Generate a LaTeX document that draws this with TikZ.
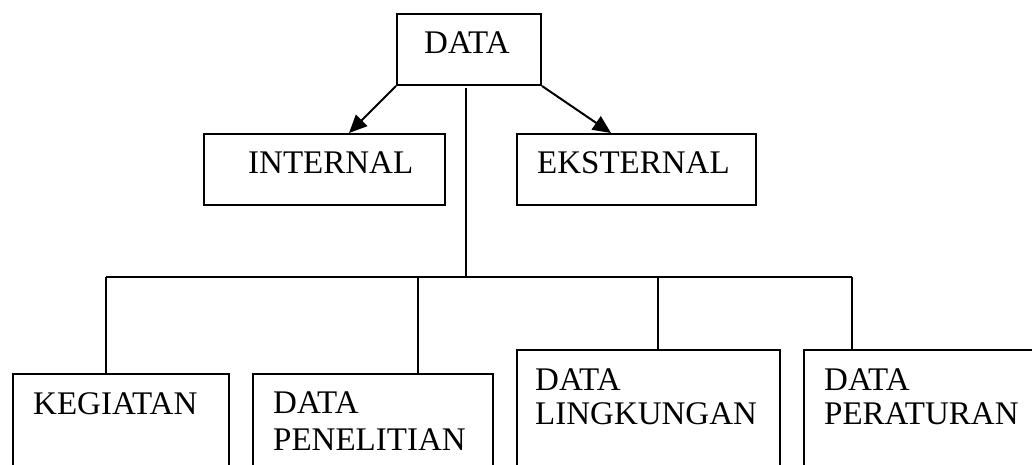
\documentclass[tikz,border=0pt]{standalone}
\usepackage{fontspec}
\setmainfont{Liberation Serif}
\usetikzlibrary{arrows.meta}
\begin{document}
\begin{tikzpicture}[x=1pt,y=-1pt,
  box/.style={draw,line width=2pt,rectangle,inner sep=0pt,anchor=north west},
  lbl/.style={inner sep=0pt,anchor=base west,font=\fontsize{33}{38}\selectfont},
  link/.style={line width=2pt},
  arr/.style={line width=2pt,-{Triangle[length=18pt,width=16pt]}}]
\useasboundingbox (0,0) rectangle (1032,465);
\clip (0,0) rectangle (1032,465);
% boxes
\node[box,minimum width=144pt,minimum height=71pt] (dat) at (396,13) {};
\node[box,minimum width=241pt,minimum height=71pt] (int) at (203,133) {};
\node[box,minimum width=239pt,minimum height=71pt] (eks) at (516,133) {};
\node[box,minimum width=216pt,minimum height=140pt] (keg) at (12,373) {};
\node[box,minimum width=240pt,minimum height=140pt] (pen) at (252,373) {};
\node[box,minimum width=263pt,minimum height=160pt] (lin) at (516,349) {};
\node[box,minimum width=260pt,minimum height=160pt] (per) at (803,349) {};
% labels
\node[lbl] (tdat) at (424,54) {DATA};
\node[lbl] (tint) at (248,174) {INTERNAL};
\node[lbl] (teks) at (537,174) {EKSTERNAL};
\node[lbl] (tkeg) at (33,414) {KEGIATAN};
\node[lbl] (tpen1) at (273,413) {DATA};
\node[lbl] (tpen2) at (273,450) {PENELITIAN};
\node[lbl] (tlin1) at (535,390) {DATA};
\node[lbl] (tlin2) at (535,424) {LINGKUNGAN};
\node[lbl] (tper1) at (824,390) {DATA};
\node[lbl] (tper2) at (824,424) {PERATURAN};
% connectors
\draw[arr] (dat.south west) -- ([xshift=24.5pt]int.north);
\draw[arr] (dat.south east) -- ([xshift=-25.5pt]eks.north);
\coordinate (top) at (466,88);
\coordinate (hub) at (466,277);
\coordinate (b1) at (106,277);
\coordinate (b2) at (418,277);
\coordinate (b3) at (658,277);
\coordinate (b4) at (852,277);
\draw[link] (top) -- (hub);
\draw[link] (b1) -- (b4);
\draw[link] (b1) -- (b1 |- keg.north);
\draw[link] (b2) -- (b2 |- pen.north);
\draw[link] (b3) -- (b3 |- lin.north);
\draw[link] (b4) -- (b4 |- per.north);
\end{tikzpicture}
\end{document}
